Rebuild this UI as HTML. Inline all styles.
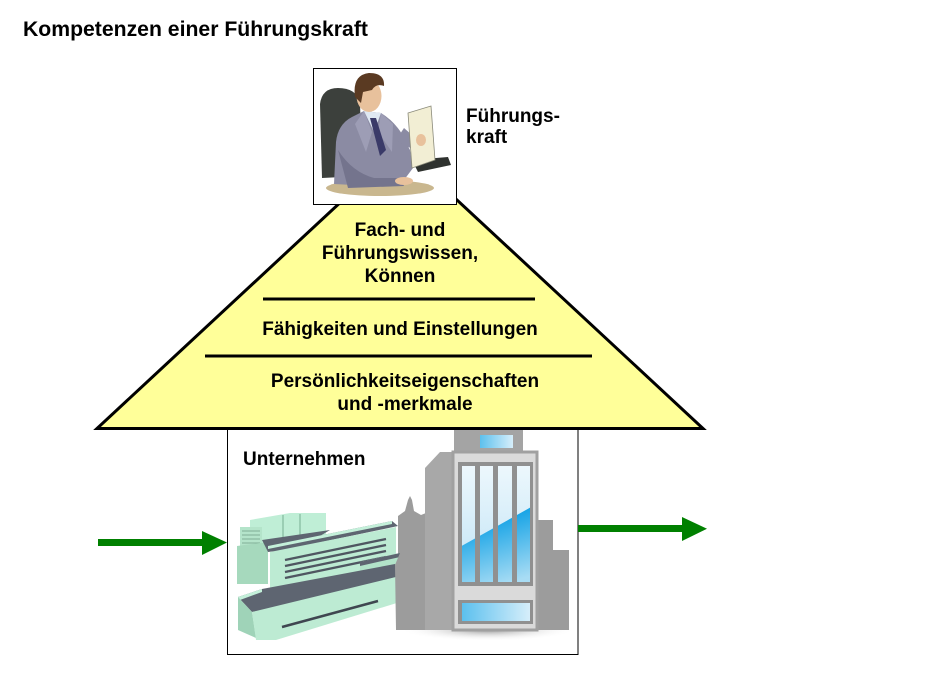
<!DOCTYPE html>
<html>
<head>
<meta charset="utf-8">
<style>
  html, body { margin:0; padding:0; background:#ffffff; }
  body { width:928px; height:688px; overflow:hidden; }
  svg { display:block; }
  text { font-family:"Liberation Sans", Arial, sans-serif; font-weight:bold; fill:#000; }
</style>
</head>
<body>
<svg width="928" height="688" viewBox="0 0 928 688" xmlns="http://www.w3.org/2000/svg">
  <defs>
    <linearGradient id="glassTop" x1="0" y1="0" x2="0" y2="1">
      <stop offset="0" stop-color="#eef8fd"/>
      <stop offset="1" stop-color="#bfe3f5"/>
    </linearGradient>
    <linearGradient id="glassBot" gradientUnits="userSpaceOnUse" x1="480" y1="525" x2="500" y2="586">
      <stop offset="0" stop-color="#18a4e6"/>
      <stop offset="1" stop-color="#a8dcf4"/>
    </linearGradient>
    <linearGradient id="glass2" x1="0" y1="0" x2="1" y2="0">
      <stop offset="0" stop-color="#5cc0ee"/>
      <stop offset="1" stop-color="#d6eefa"/>
    </linearGradient>
    <radialGradient id="shadow" cx="0.5" cy="0.5" r="0.5">
      <stop offset="0" stop-color="#9a9a9a"/>
      <stop offset="1" stop-color="#ffffff" stop-opacity="0"/>
    </radialGradient>
    <clipPath id="cols">
      <rect x="462" y="466" width="13" height="116"/>
      <rect x="480" y="466" width="13" height="116"/>
      <rect x="498" y="466" width="14" height="116"/>
      <rect x="517" y="466" width="13" height="116"/>
    </clipPath>
  </defs>

  <!-- Title -->
  <text x="23" y="36" font-size="21.2">Kompetenzen einer Führungskraft</text>

  <!-- Unternehmen box -->
  <rect x="227.5" y="420" width="350.5" height="234.5" fill="#ffffff" stroke="#000" stroke-width="1"/>

  <!-- Buildings: tower -->
  <ellipse cx="488" cy="630" rx="88" ry="11" fill="url(#shadow)"/>
  <polygon points="398,630 398,516 405,511 408,500 410,496 412,500 414,511 421,515 426,513 426,630" fill="#9c9c9c"/>
  <polygon points="537,630 537,520 553,520 553,550 569,550 569,630" fill="#9c9c9c"/>
  <polygon points="425,630 425,468 440,452 454,452 454,630" fill="#a8a8a8"/>
  <rect x="454" y="430" width="69" height="24" fill="#a4a4a4"/>
  <rect x="480" y="435" width="33" height="13" fill="url(#glass2)"/>
  <rect x="453" y="452" width="84" height="178" fill="#dadada" stroke="#a0a0a0" stroke-width="3"/>
  <rect x="458" y="462" width="75" height="124" fill="#909090"/>
  <g clip-path="url(#cols)">
    <rect x="458" y="462" width="75" height="124" fill="url(#glassTop)"/>
    <polygon points="458,548 533,506 533,586 458,586" fill="url(#glassBot)"/>
  </g>
  <rect x="458" y="600" width="75" height="24" fill="#909090"/>
  <rect x="462" y="603" width="68" height="18" fill="url(#glass2)"/>

  <!-- Buildings: green factory -->
  <polygon points="250,520 290,513 326,513 326,541 250,546" fill="#bfeed6"/>
  <line x1="283" y1="515" x2="283" y2="542" stroke="#8fc4a8" stroke-width="1.5"/>
  <line x1="300" y1="514" x2="300" y2="541" stroke="#8fc4a8" stroke-width="1.5"/>
  <rect x="240" y="527" width="22" height="28" fill="#b4e4ca"/>
  <g stroke="#7fae96" stroke-width="1">
    <line x1="242" y1="531" x2="260" y2="531"/>
    <line x1="242" y1="535" x2="260" y2="535"/>
    <line x1="242" y1="539" x2="260" y2="539"/>
    <line x1="242" y1="543" x2="260" y2="543"/>
    <line x1="242" y1="547" x2="260" y2="547"/>
  </g>
  <polygon points="237,546 268,542 268,584 237,584" fill="#a6d9bd"/>
  <polygon points="262,540 330,530 300,548 268,552" fill="#5e6571"/>
  <polygon points="268,546 392,521 398,526 274,552" fill="#5e6571"/>
  <polygon points="268,546 392,521 392,524 268,549" fill="#c4f0da"/>
  <polygon points="270,552 396,527 396,570 270,590" fill="#bdebd3"/>
  <g stroke="#4f5661" stroke-width="2.4">
    <line x1="285" y1="560" x2="386" y2="539"/>
    <line x1="285" y1="566" x2="386" y2="545"/>
    <line x1="285" y1="572" x2="386" y2="551"/>
    <line x1="285" y1="578" x2="386" y2="557"/>
  </g>
  <polygon points="360,562 400,553 400,576 360,585" fill="#b2e3c9"/>
  <polygon points="360,562 400,553 400,557 360,566" fill="#5e6571"/>
  <polygon points="238,597 262,589 395,564 400,576 290,606 252,612" fill="#5e6571"/>
  <polygon points="238,597 262,589 262,592 240,600" fill="#c4f0da"/>
  <polygon points="238,597 252,612 256,638 238,630" fill="#9fd3b8"/>
  <polygon points="252,612 400,576 400,602 276,640 256,640" fill="#bdebd3"/>
  <line x1="282" y1="627" x2="378" y2="601" stroke="#3f4650" stroke-width="2.5"/>
  <polygon points="395,565 400,553 400,630 396,630" fill="#9c9c9c"/>

  <text x="243" y="465" font-size="19">Unternehmen</text>

  <!-- Arrows -->
  <rect x="98" y="539" width="105" height="7" fill="#008000"/>
  <polygon points="202,531 227,542.5 202,555" fill="#008000"/>
  <rect x="578" y="525" width="105" height="7" fill="#008000"/>
  <polygon points="682,517 707,528.7 682,541" fill="#008000"/>

  <!-- Pyramid -->
  <polygon points="97,428.5 703,428.5 400,147" fill="#ffff99" stroke="#000" stroke-width="3" stroke-linejoin="miter"/>
  <line x1="263" y1="299" x2="535" y2="299" stroke="#000" stroke-width="3"/>
  <line x1="205" y1="356" x2="592" y2="356" stroke="#000" stroke-width="3"/>

  <g text-anchor="middle" font-size="19">
    <text x="400" y="236">Fach- und</text>
    <text x="400" y="259">Führungswissen,</text>
    <text x="400" y="282">Können</text>
    <text x="400" y="335">Fähigkeiten und Einstellungen</text>
    <text x="405" y="387">Persönlichkeitseigenschaften</text>
    <text x="405" y="410">und -merkmale</text>
  </g>

  <!-- Person box -->
  <rect x="313.5" y="68.5" width="143" height="136" fill="#ffffff" stroke="#000" stroke-width="1"/>
  <!-- chair -->
  <path d="M322,178 L320,104 Q322,88 338,88 Q356,88 360,102 L362,176 Z" fill="#3c403c"/>
  <!-- desk -->
  <ellipse cx="380" cy="188" rx="54" ry="8" fill="#c9b78f"/>
  <!-- suit -->
  <path d="M334,184 L336,142 Q338,124 352,117 L364,111 L381,113 Q394,121 402,134 L410,150 L413,168 L404,180 L372,186 Z" fill="#8b8ba3"/>
  <path d="M338,150 Q352,172 374,178 L400,178 L404,186 L348,188 Z" fill="#74748d"/>
  <path d="M364,111 L372,132 L366,152 L355,124 Z" fill="#9d9db5"/>
  <path d="M381,113 L378,132 L392,152 L393,124 Z" fill="#9d9db5"/>
  <path d="M396,140 L414,150 L420,142 L404,128 Z" fill="#8b8ba3"/>
  <!-- shirt & tie -->
  <polygon points="364,111 381,113 374,132" fill="#dfe8f2"/>
  <polygon points="370,118 376,118 386,150 380,156" fill="#3a3a68"/>
  <!-- head -->
  <ellipse cx="369" cy="96" rx="12.5" ry="16" fill="#e8c19c"/>
  <path d="M355,97 Q352,75 369,73 Q385,73 384,86 Q376,83 372,90 L363,92 L361,103 Z" fill="#5a3a22"/>
  <!-- armrest -->
  <polygon points="412,160 448,157 451,165 418,172" fill="#2f322f"/>
  <!-- paper -->
  <polygon points="408,113 431,106 435,160 412,168" fill="#f2eed4" stroke="#8a8a7a" stroke-width="0.8"/>
  <ellipse cx="421" cy="140" rx="5" ry="6" fill="#e8c19c"/>
  <!-- hands on desk -->
  <ellipse cx="404" cy="181" rx="9" ry="4" fill="#e8c19c"/>

  <text x="466" y="122" font-size="19">Führungs-</text>
  <text x="466" y="143" font-size="19">kraft</text>
</svg>
</body>
</html>
